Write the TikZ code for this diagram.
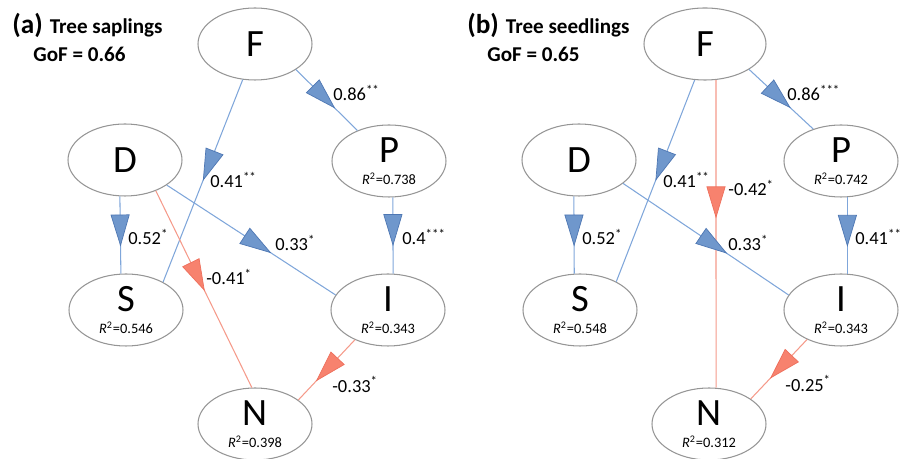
\documentclass[tikz,border=0pt]{standalone}
\usepackage{fontspec}
\setmainfont{Carlito}
\usetikzlibrary{shapes.geometric,arrows.meta,decorations.markings}

\definecolor{nodegray}{HTML}{959595}
\definecolor{bline}{HTML}{7FA6DA}
\definecolor{bfill}{HTML}{6F97CC}
\definecolor{bedge}{HTML}{4E77B3}
\definecolor{rline}{HTML}{F59A8A}
\definecolor{rfill}{HTML}{F7826E}
\definecolor{redge}{HTML}{EE6F5C}

\newcommand{\rsq}[1]{{\fontsize{8.2}{10}\selectfont\textit{R}\textsuperscript{2}=#1}}

\tikzset{
  latent/.style={ellipse, draw=nodegray, line width=0.6pt, minimum width=2.28cm, minimum height=1.44cm,
    inner sep=0pt, align=center, font=\fontsize{22}{12.5}\selectfont},
  posedge/.style={draw=bline, line width=0.6pt, postaction={decorate},
    decoration={markings, mark=at position #1 with {\arrow{Triangle[length=6.4mm,width=3.8mm,color=bedge,fill=bfill,line width=0.4pt]}}}},
  negedge/.style={draw=rline, line width=0.6pt, postaction={decorate},
    decoration={markings, mark=at position #1 with {\arrow{Triangle[length=6.4mm,width=3.8mm,color=redge,fill=rfill,line width=0.4pt]}}}},
  coef/.style={anchor=west, inner sep=0pt, font=\fontsize{10.5}{12}\selectfont},
  title/.style={anchor=base west, inner sep=0pt, font=\bfseries\fontsize{12}{14}\selectfont}
}

\begin{document}
\begin{tikzpicture}
  \useasboundingbox (0,0) rectangle (18,9.18);

  % (a) Tree saplings
  \node[title] (tita) at (0.24,8.50) {{\fontsize{15.5}{18}\selectfont(a)}\hspace{4pt}Tree saplings};
  \node[title] (gofa) at (0.66,7.94) {GoF = 0.66};

  % Constructs (a)
  \node[latent] (Fa) at (5.10,8.30) {F};
  \node[latent] (Da) at (2.50,5.98) {D};
  \node[latent] (Pa) at (7.78,5.96) {P\\\rsq{0.738}};
  \node[latent] (Sa) at (2.52,2.98) {S\\\rsq{0.546}};
  \node[latent] (Ia) at (7.76,2.98) {I\\\rsq{0.343}};
  \node[latent] (Na) at (5.10,0.70) {N\\\rsq{0.398}};

  % Paths (a)
  \draw[posedge=0.64] (Fa.-32) -- (Pa.136);
  \draw[posedge=0.5] (Fa.251) -- (Sa.37);
  \draw[posedge=0.65] (Da.262) -- (Sa.98);
  \draw[negedge=0.51] (Da.-45) -- (Na.95);
  \draw[posedge=0.62] (Da.-31) -- (Ia.164);
  \draw[posedge=0.64] (Pa.-84) -- (Ia.82);
  \draw[negedge=0.69] (Ia.222) -- (Na.29);

  % Coefficients (a)
  \node[coef] (cFPa) at (6.66,7.32) {0.86\textsuperscript{**}};
  \node[coef] (cFSa) at (4.20,5.58) {0.41\textsuperscript{**}};
  \node[coef] (cDSa) at (2.56,4.44) {0.52\textsuperscript{*}};
  \node[coef] (cDNa) at (4.12,3.64) {-0.41\textsuperscript{*}};
  \node[coef] (cDIa) at (5.50,4.32) {0.33\textsuperscript{*}};
  \node[coef] (cPIa) at (8.04,4.44) {0.4\textsuperscript{***}};
  \node[coef] (cINa) at (6.64,1.50) {-0.33\textsuperscript{*}};

  % (b) Tree seedlings
  \node[title] (titb) at (9.34,8.50) {{\fontsize{15.5}{18}\selectfont(b)}\hspace{4pt}Tree seedlings};
  \node[title] (gofb) at (9.74,7.94) {GoF = 0.65};

  % Constructs (b)
  \node[latent,minimum width=2.44cm] (Fb) at (14.10,8.30) {F};
  \node[latent] (Db) at (11.58,5.98) {D};
  \node[latent] (Pb) at (16.82,5.96) {P\\\rsq{0.742}};
  \node[latent] (Sb) at (11.60,2.98) {S\\\rsq{0.548}};
  \node[latent] (Ib) at (16.82,2.98) {I\\\rsq{0.343}};
  \node[latent] (Nb) at (14.18,0.70) {N\\\rsq{0.312}};

  % Paths (b)
  \draw[posedge=0.65] (Fb.-30) -- (Pb.131);
  \draw[posedge=0.5] (Fb.254) -- (Sb.38);
  \draw[negedge=0.45] (Fb.287) -- (Nb.79);
  \draw[posedge=0.65] (Db.262) -- (Sb.99);
  \draw[posedge=0.63] (Db.-28) -- (Ib.164);
  \draw[posedge=0.65] (Pb.-80) -- (Ib.80);
  \draw[negedge=0.66] (Ib.221) -- (Nb.31);

  % Coefficients (b)
  \node[coef] (cFPb) at (15.74,7.32) {0.86\textsuperscript{***}};
  \node[coef] (cFSb) at (13.26,5.58) {0.41\textsuperscript{**}};
  \node[coef] (cFNb) at (14.56,5.42) {-0.42\textsuperscript{*}};
  \node[coef] (cDSb) at (11.64,4.44) {0.52\textsuperscript{*}};
  \node[coef] (cDIb) at (14.56,4.32) {0.33\textsuperscript{*}};
  \node[coef] (cPIb) at (17.10,4.44) {0.41\textsuperscript{**}};
  \node[coef] (cINb) at (15.70,1.52) {-0.25\textsuperscript{*}};
\end{tikzpicture}
\end{document}
